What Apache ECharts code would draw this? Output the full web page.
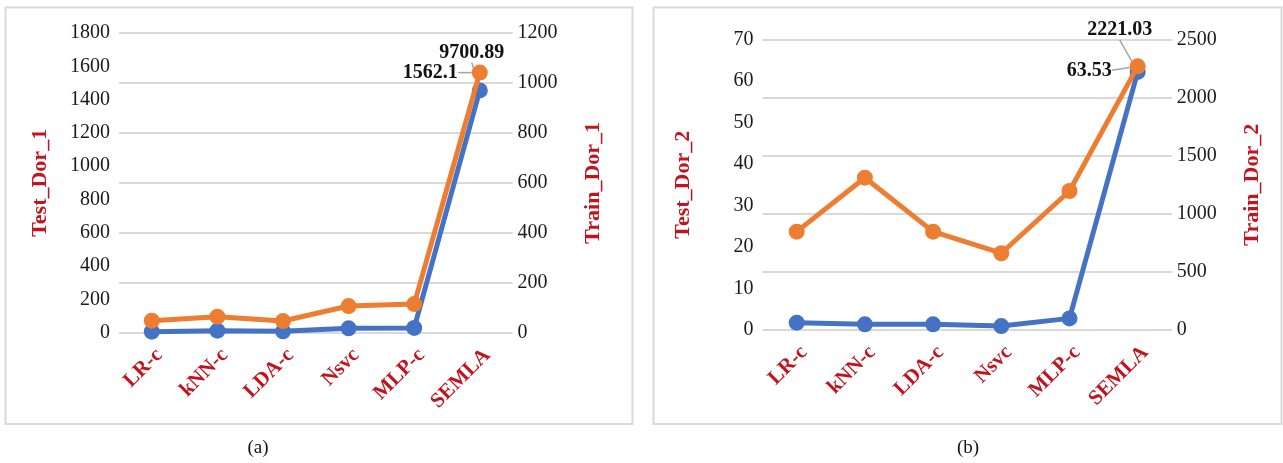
<!DOCTYPE html>
<html>
<head>
<meta charset="utf-8">
<script src="https://cdn.jsdelivr.net/npm/echarts@6/dist/echarts.min.js"></script>
<style>
  html, body { margin: 0; padding: 0; background: #ffffff; }
  #chart { width: 1283px; height: 463px; }
</style>
</head>
<body>
<div id="chart"></div>
<script>
// Methods on the category axis (shared by both panels)
const categories = ['LR-c', 'kNN-c', 'LDA-c', 'Nsvc', 'MLP-c', 'SEMLA'];

// Panel (a): Dor_1
const testDor1 = [72, 96, 70, 160, 172, 1562.1];      // orange, left axis
const trainDor1 = [40, 80, 56, 176, 190, 9700.89];    // blue, right axis
const rightTickLabels1 = ['0', '200', '400', '600', '800', '1000', '1200'];

// Panel (b): Dor_2
const testDor2 = [23.7, 36.7, 23.7, 18.5, 33.5, 63.53];   // orange, left axis
const trainDor2 = [63, 49, 49, 34, 100, 2221.03];         // blue, right axis

const SERIF = '"Liberation Serif", "Times New Roman", serif';
const RED = '#C0141F';
const ORANGE = '#ED7D31';
const BLUE = '#4472C4';
const GRID_GRAY = '#d9d9d9';

const chart = echarts.init(document.getElementById('chart'), null, { renderer: 'canvas' });

function xAxisFor(gridIndex) {
  return {
    type: 'category',
    gridIndex: gridIndex,
    data: categories,
    boundaryGap: true,
    axisLine: { show: false },
    axisTick: { show: false },
    axisLabel: {
      rotate: 45,
      margin: 12,
      verticalAlign: 'top',
      fontFamily: SERIF,
      fontSize: 21,
      fontWeight: 'bold',
      color: RED
    }
  };
}

function valueAxis(gridIndex, pos, max, interval, name, showSplit, formatter) {
  return {
    type: 'value',
    gridIndex: gridIndex,
    position: pos,
    min: 0,
    max: max,
    interval: interval,
    name: name,
    nameLocation: 'middle',
    nameRotate: 90,
    nameGap: pos === 'left' ? 68 : 70,
    nameTextStyle: { fontFamily: SERIF, fontSize: 22, fontWeight: 'bold', color: RED },
    axisLine: { show: false },
    axisTick: { show: false },
    splitLine: { show: showSplit, lineStyle: { color: GRID_GRAY, width: 2 } },
    axisLabel: {
      margin: pos === 'left' ? 9 : 5,
      fontFamily: SERIF,
      fontSize: 20,
      color: '#1a1a1a',
      formatter: formatter || function (v) { return String(v); }
    }
  };
}

const valueLabel = {
  fontFamily: SERIF,
  fontSize: 20,
  fontWeight: 'bold',
  color: '#111111'
};
const leader = { show: true, lineStyle: { color: '#a6a6a6', width: 1.5 } };

function lineSeries(name, data, color, xi, yi, labelOpts, layout, z) {
  return {
    name: name,
    type: 'line',
    xAxisIndex: xi,
    yAxisIndex: yi,
    data: data.map(function (v, i) {
      if (i === data.length - 1) {
        return {
          value: v,
          label: Object.assign({ show: true, formatter: function (p) { return String(p.value); } }, valueLabel, labelOpts),
          labelLine: leader
        };
      }
      return v;
    }),
    symbol: 'circle',
    symbolSize: 16,
    lineStyle: { color: color, width: 5 },
    itemStyle: { color: color },
    labelLayout: function (params) {
      return params.dataIndex === data.length - 1 ? layout : {};
    },
    z: z,
    animation: false
  };
}

const option = {
  backgroundColor: '#ffffff',
  animation: false,
  grid: [
    { left: 119, top: 33, width: 393.6, height: 299.7 },
    { left: 762.6, top: 39.5, width: 409.2, height: 290.5 }
  ],
  xAxis: [xAxisFor(0), xAxisFor(1)],
  yAxis: [
    valueAxis(0, 'left', 1800, 200, 'Test_Dor_1', false),
    valueAxis(0, 'right', 12000, 2000, 'Train_Dor_1', true, function (v) {
      return rightTickLabels1[Math.round(v / 2000)];
    }),
    valueAxis(1, 'left', 70, 10, 'Test_Dor_2', false),
    valueAxis(1, 'right', 2500, 500, 'Train_Dor_2', true)
  ],
  series: [
    lineSeries('Train_Dor_1', trainDor1, BLUE, 0, 1, { position: 'top', distance: 4 }, { dx: -8, dy: -16 }, 2),
    lineSeries('Test_Dor_1', testDor1, ORANGE, 0, 0, { position: 'left', distance: 14 }, {}, 3),
    lineSeries('Train_Dor_2', trainDor2, BLUE, 1, 3, { position: 'top', distance: 4 }, { dx: -18, dy: -20 }, 2),
    lineSeries('Test_Dor_2', testDor2, ORANGE, 1, 2, { position: 'left', distance: 18 }, { dy: 4 }, 3)
  ],
  graphic: [
    { type: 'rect', shape: { x: 5.5, y: 7.5, width: 627, height: 416.5 },
      style: { fill: 'none', stroke: GRID_GRAY, lineWidth: 2 }, silent: true, z: -10 },
    { type: 'rect', shape: { x: 653.5, y: 7.5, width: 628, height: 416.5 },
      style: { fill: 'none', stroke: GRID_GRAY, lineWidth: 2 }, silent: true, z: -10 },
    { type: 'text', x: 258, y: 448,
      style: { text: '(a)', fontFamily: SERIF, fontSize: 19, fill: '#111', align: 'center', verticalAlign: 'middle' } },
    { type: 'text', x: 968, y: 448,
      style: { text: '(b)', fontFamily: SERIF, fontSize: 19, fill: '#111', align: 'center', verticalAlign: 'middle' } }
  ]
};

chart.setOption(option);
</script>
</body>
</html>
